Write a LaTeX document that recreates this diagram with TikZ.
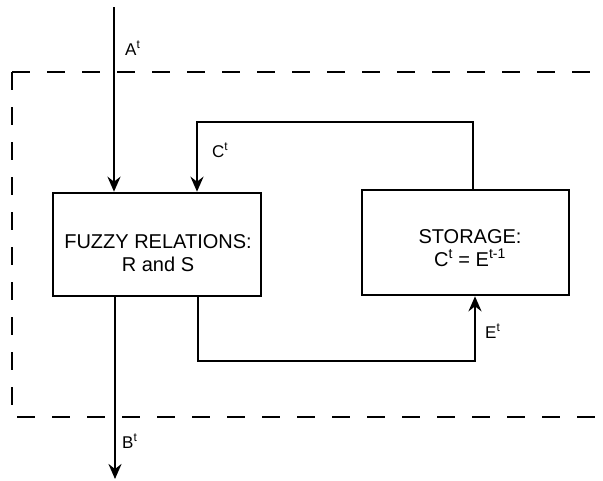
\documentclass[tikz,border=0pt]{standalone}
\usepackage{fontspec}
\setmainfont{Liberation Sans}
\usetikzlibrary{arrows.meta}
\begin{document}
\begin{tikzpicture}[x=1pt,y=-1pt,
  boxstyle/.style={draw, line width=2.6pt, rectangle, inner sep=0pt},
  txt/.style={font=\fontsize{20}{23}\selectfont, align=center, inner sep=0pt},
  lbl/.style={font=\fontsize{17}{19}\selectfont, inner sep=0pt, anchor=base west},
  conn/.style={line width=2.4pt, -{Stealth[length=15pt,width=13pt,inset=5pt]}},
  frame/.style={line width=2.8pt, dash pattern=on 18pt off 17pt}]
\useasboundingbox (0,0) rectangle (603,480);
% dashed system boundary
\draw[frame] (12,72) -- (603,72);
\draw[frame] (12,72) -- (12,417) -- (603,417);
% boxes
\node[boxstyle, minimum width=208pt, minimum height=103pt] (L) at (157,244.5) {};
\node[boxstyle, minimum width=207pt, minimum height=105pt] (R) at (465.5,242.5) {};
\node[txt] (Ltxt) at (158,253) {FUZZY RELATIONS:\\R and S};
\node[txt] (Rtxt) at (470,248) {STORAGE:\\C\textsuperscript{t} = E\textsuperscript{t-1}};
% coordinates
\coordinate (Atop) at (114,7);
\coordinate (fbR) at (473,122);
\coordinate (fbL) at (197,122);
\coordinate (eL) at (198,361);
\coordinate (eR) at (475,361);
\coordinate (Bend) at (115,479);
% connectors
\draw[conn] (Atop) -- (Atop |- L.north);
\draw[conn] (fbR |- R.north) -- (fbR) -- (fbL) -- (fbL |- L.north);
\draw[conn] (eL |- L.south) -- (eL) -- (eR) -- (eR |- R.south);
\draw[conn] (Bend |- L.south) -- (Bend);
% labels
\node[lbl] (la) at (125,55) {A\textsuperscript{t}};
\node[lbl] (lc) at (212,157) {C\textsuperscript{t}};
\node[lbl] (le) at (485,338) {E\textsuperscript{t}};
\node[lbl] (lb) at (122,448) {B\textsuperscript{t}};
\end{tikzpicture}
\end{document}
